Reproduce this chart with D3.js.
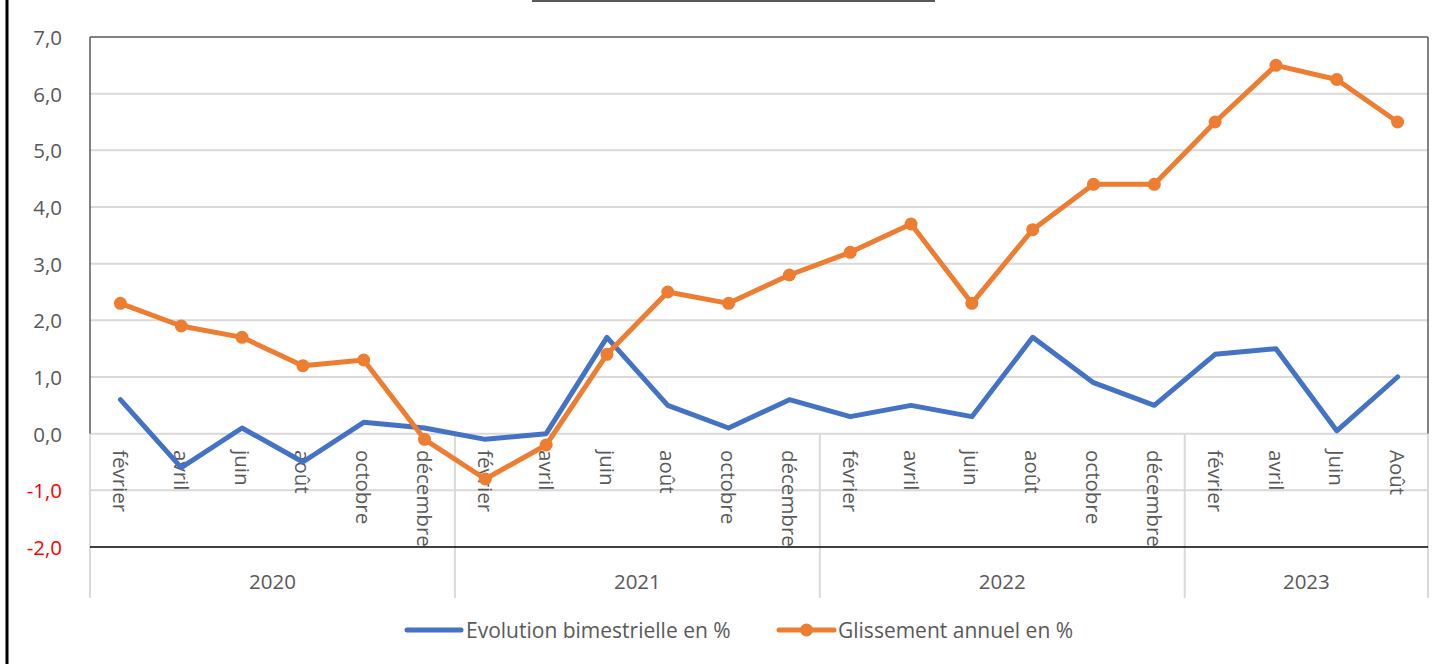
<!DOCTYPE html>
<html>
<head>
<meta charset="utf-8">
<script src="https://cdn.jsdelivr.net/npm/d3@7"></script>
<style>
  html, body { margin: 0; padding: 0; background: #fff; }
  svg { display: block; font-family: "Open Sans", "Segoe UI", sans-serif; }
</style>
</head>
<body>
<div id="chart"></div>
<script>
const yearLabels = ['2020', '2021', '2022', '2023'];
const monthsPerYear = [6, 6, 6, 4];
const monthLabels = [
  'février', 'avril', 'juin', 'août', 'octobre', 'décembre',
  'février', 'avril', 'juin', 'août', 'octobre', 'décembre',
  'février', 'avril', 'juin', 'août', 'octobre', 'décembre',
  'février', 'avril', 'Juin', 'Août'
];
const bimestrielle = [
  0.6, -0.6, 0.1, -0.5, 0.2, 0.1,
  -0.1, 0.0, 1.7, 0.5, 0.1, 0.6,
  0.3, 0.5, 0.3, 1.7, 0.9, 0.5,
  1.4, 1.5, 0.05, 1.0
];
const glissement = [
  2.3, 1.9, 1.7, 1.2, 1.3, -0.1,
  -0.8, -0.2, 1.4, 2.5, 2.3, 2.8,
  3.2, 3.7, 2.3, 3.6, 4.4, 4.4,
  5.5, 6.5, 6.25, 5.5
];
const yTicks = [-2, -1, 0, 1, 2, 3, 4, 5, 6, 7];
const seriesNames = ['Evolution bimestrielle en %', 'Glissement annuel en %'];

const width = 1447;
const height = 664;
const margin = { top: 37, right: 19, bottom: 117, left: 90 };
const blue = '#4472c4';
const orange = '#ed7d31';
const gray = '#595959';
const grid = '#d9d9d9';

const fr = d3.formatLocale({ decimal: ',', thousands: ' ', grouping: [3], currency: ['', ' €'], minus: '-' });
const fmt = fr.format('.1f');

const svg = d3.select('#chart')
  .append('svg')
  .attr('width', width)
  .attr('height', height);

const x = d3.scaleBand()
  .domain(d3.range(monthLabels.length))
  .range([margin.left, width - margin.right])
  .padding(0);
const y = d3.scaleLinear()
  .domain([-2, 7])
  .range([height - margin.bottom, margin.top]);
const cx = i => x(i) + x.bandwidth() / 2;

// outer decorations
svg.append('line')
  .attr('x1', 7).attr('x2', 7).attr('y1', 0).attr('y2', height)
  .attr('stroke', '#000').attr('stroke-width', 3);
svg.append('line')
  .attr('x1', 532).attr('x2', 935).attr('y1', 1).attr('y2', 1)
  .attr('stroke', gray).attr('stroke-width', 2);

// horizontal gridlines
svg.append('g')
  .selectAll('line')
  .data(yTicks.filter(d => d !== -2))
  .join('line')
  .attr('x1', margin.left).attr('x2', width - margin.right)
  .attr('y1', d => y(d)).attr('y2', d => y(d))
  .attr('stroke', d => d === 7 ? gray : grid)
  .attr('stroke-width', d => d === 7 ? 1.5 : 2);

// plot border above the category axis
[margin.left, width - margin.right].forEach(px => {
  svg.append('line')
    .attr('x1', px).attr('x2', px).attr('y1', y(7)).attr('y2', y(0))
    .attr('stroke', gray).attr('stroke-width', 1.5);
});

// year group separators below zero
const yearStarts = [0];
monthsPerYear.forEach((n, i) => yearStarts.push(yearStarts[i] + n));
svg.append('g')
  .selectAll('line')
  .data(yearStarts)
  .join('line')
  .attr('x1', d => d < monthLabels.length ? x(d) : width - margin.right)
  .attr('x2', d => d < monthLabels.length ? x(d) : width - margin.right)
  .attr('y1', y(0)).attr('y2', 598)
  .attr('stroke', grid).attr('stroke-width', 2);

// y axis labels
const yAxis = svg.append('g')
  .attr('transform', `translate(62,0)`)
  .call(d3.axisLeft(y).tickValues(yTicks).tickSize(0).tickPadding(0).tickFormat(fmt));
yAxis.select('.domain').remove();
yAxis.selectAll('text')
  .attr('fill', d => d < 0 ? '#ff0000' : gray)
  .style('font-size', '20.5px')
  .style('font-family', '"Open Sans", sans-serif')
  .attr('dy', '0.36em');

// category labels, clipped at the bottom line
svg.append('clipPath').attr('id', 'catclip')
  .append('rect').attr('x', 0).attr('y', y(0)).attr('width', width).attr('height', y(-2) - y(0));
svg.append('g')
  .attr('clip-path', 'url(#catclip)')
  .selectAll('text')
  .data(monthLabels)
  .join('text')
  .attr('transform', (d, i) => `translate(${cx(i)},450) rotate(90)`)
  .attr('dy', '0.36em')
  .attr('text-anchor', 'start')
  .attr('fill', gray)
  .style('font-size', '20.5px')
  .text(d => d);

// bottom line at -2
svg.append('line')
  .attr('x1', margin.left).attr('x2', width - margin.right)
  .attr('y1', y(-2)).attr('y2', y(-2))
  .attr('stroke', '#000').attr('stroke-width', 1.5);

// year labels
svg.append('g')
  .selectAll('text')
  .data(yearLabels)
  .join('text')
  .attr('x', (d, i) => {
    const a = x(yearStarts[i]);
    const b = x(yearStarts[i + 1] - 1) + x.bandwidth();
    return (a + b) / 2;
  })
  .attr('y', 589)
  .attr('text-anchor', 'middle')
  .attr('fill', gray)
  .style('font-size', '20.5px')
  .text(d => d);

// series
const line = d3.line()
  .x((d, i) => cx(i))
  .y(d => y(d));

svg.append('path')
  .datum(bimestrielle)
  .attr('fill', 'none')
  .attr('stroke', blue)
  .attr('stroke-width', 5)
  .attr('stroke-linejoin', 'round')
  .attr('stroke-linecap', 'round')
  .attr('d', line);

svg.append('path')
  .datum(glissement)
  .attr('fill', 'none')
  .attr('stroke', orange)
  .attr('stroke-width', 5)
  .attr('stroke-linejoin', 'round')
  .attr('stroke-linecap', 'round')
  .attr('d', line);

svg.append('g')
  .selectAll('circle')
  .data(glissement)
  .join('circle')
  .attr('cx', (d, i) => cx(i))
  .attr('cy', d => y(d))
  .attr('r', 6.5)
  .attr('fill', orange);

// legend
const legendY = 630;
const legend = [
  { name: seriesNames[0], color: blue, x1: 407, x2: 461, tx: 466, marker: false },
  { name: seriesNames[1], color: orange, x1: 779, x2: 834, tx: 838, marker: true }
];
legend.forEach(l => {
  svg.append('line')
    .attr('x1', l.x1).attr('x2', l.x2).attr('y1', legendY).attr('y2', legendY)
    .attr('stroke', l.color).attr('stroke-width', 5).attr('stroke-linecap', 'round');
  if (l.marker) {
    svg.append('circle')
      .attr('cx', (l.x1 + l.x2) / 2).attr('cy', legendY).attr('r', 6.5).attr('fill', l.color);
  }
  svg.append('text')
    .attr('x', l.tx).attr('y', legendY)
    .attr('dy', '0.36em')
    .attr('fill', gray)
    .style('font-size', '21px')
    .text(l.name);
});
</script>
</body>
</html>
